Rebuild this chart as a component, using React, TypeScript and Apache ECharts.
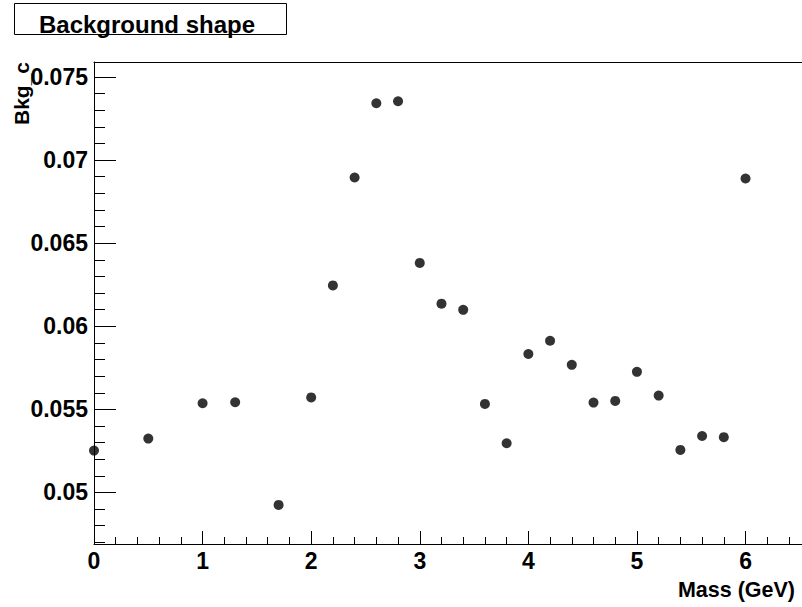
import React, { useEffect, useRef } from "react";
import * as echarts from "echarts";

const massValues = [0, 0.5, 1.0, 1.3, 1.7, 2.0, 2.2, 2.4, 2.6, 2.8, 3.0, 3.2, 3.4, 3.6, 3.8, 4.0, 4.2, 4.4, 4.6, 4.8, 5.0, 5.2, 5.4, 5.6, 5.8, 6.0];
const bkgValues = [0.05252, 0.05324, 0.05537, 0.05543, 0.04925, 0.05572, 0.06246, 0.06895, 0.07342, 0.07354, 0.06381, 0.06136, 0.06099, 0.05533, 0.05296, 0.05833, 0.05913, 0.05768, 0.05541, 0.05551, 0.05726, 0.05583, 0.05256, 0.0534, 0.05333, 0.06889];

const xMajorTicks = [0, 1, 2, 3, 4, 5, 6];
const xMinorTicks = [0.2, 0.4, 0.6, 0.8, 1.2, 1.4, 1.6, 1.8, 2.2, 2.4, 2.6, 2.8, 3.2, 3.4, 3.6, 3.8, 4.2, 4.4, 4.6, 4.8, 5.2, 5.4, 5.6, 5.8, 6.2, 6.4];
const yMajorTicks = [0.05, 0.055, 0.06, 0.065, 0.07, 0.075];
const yMinorTicks = [0.047, 0.048, 0.049, 0.051, 0.052, 0.053, 0.054, 0.056, 0.057, 0.058, 0.059, 0.061, 0.062, 0.063, 0.064, 0.066, 0.067, 0.068, 0.069, 0.071, 0.072, 0.073, 0.074];

const titleText = "Background shape";
const xTitle = "Mass (GeV)";
const yTitle = "Bkg_c";

const X_MIN = 0;
const X_MAX = 6.52;
const Y_MIN = 0.0469;
const Y_MAX = 0.0759;

const FONT = "'Liberation Sans', Arial, Helvetica, sans-serif";

export default function App() {
  const ref = useRef<HTMLDivElement>(null);
  useEffect(() => {
    if (!ref.current) return;
    const chart = echarts.init(ref.current, null, { renderer: "svg" });
    const lineStyle = { color: "#000", width: 1 };
    const labelStyle = { fontFamily: FONT, fontWeight: "bold" as const, fontSize: 23, color: "#000" };
    const fmt = (v: number) => String(+Number(v).toFixed(3));
    chart.setOption({
      animation: false,
      backgroundColor: "#fff",
      grid: { left: 94, right: 0, top: 62, bottom: 63, containLabel: false },
      xAxis: [
        {
          type: "value", min: X_MIN, max: X_MAX, position: "bottom",
          axisLine: { show: true, onZero: false, lineStyle },
          axisTick: { show: true, inside: true, length: 13, lineStyle, customValues: xMajorTicks },
          axisLabel: { show: true, margin: 5, customValues: xMajorTicks, formatter: fmt, ...labelStyle },
          splitLine: { show: false },
        },
        {
          type: "value", min: X_MIN, max: X_MAX, position: "bottom",
          axisLine: { show: false, onZero: false },
          axisTick: { show: true, inside: true, length: 7, lineStyle, customValues: xMinorTicks },
          axisLabel: { show: false },
          splitLine: { show: false },
        },
        {
          type: "value", min: X_MIN, max: X_MAX, position: "top",
          axisLine: { show: true, onZero: false, lineStyle },
          axisTick: { show: false },
          axisLabel: { show: false },
          splitLine: { show: false },
        },
      ],
      yAxis: [
        {
          type: "value", min: Y_MIN, max: Y_MAX, position: "left",
          axisLine: { show: true, onZero: false, lineStyle },
          axisTick: { show: true, inside: true, length: 22, lineStyle, customValues: yMajorTicks },
          axisLabel: { show: true, margin: 6, customValues: yMajorTicks, formatter: fmt, ...labelStyle },
          splitLine: { show: false },
        },
        {
          type: "value", min: Y_MIN, max: Y_MAX, position: "left",
          axisLine: { show: false, onZero: false },
          axisTick: { show: true, inside: true, length: 11, lineStyle, customValues: yMinorTicks },
          axisLabel: { show: false },
          splitLine: { show: false },
        },
      ],
      series: [
        {
          type: "scatter",
          xAxisIndex: 0,
          yAxisIndex: 0,
          symbol: "circle",
          symbolSize: 10,
          itemStyle: { color: "#000" },
          data: massValues.map((m, i) => [m, bkgValues[i]]),
        },
      ],
      graphic: [
        {
          type: "rect",
          shape: { x: 14.5, y: 3.5, width: 272, height: 31 },
          style: { fill: "#fff", stroke: "#000", lineWidth: 1 },
          z: 10,
        },
        {
          type: "text",
          x: 147, y: 24,
          style: { text: titleText, fontFamily: FONT, fontWeight: "bold", fontSize: 24, fill: "#000", align: "center", verticalAlign: "middle" },
          z: 11,
        },
        {
          type: "text",
          x: 795, y: 590,
          style: { text: xTitle, fontFamily: FONT, fontWeight: "bold", fontSize: 21.5, fill: "#000", align: "right", verticalAlign: "middle" },
          z: 11,
        },
        {
          type: "text",
          x: 21, y: 62,
          rotation: Math.PI / 2,
          style: { text: yTitle, fontFamily: FONT, fontWeight: "bold", fontSize: 21, fill: "#000", align: "right", verticalAlign: "middle" },
          z: 11,
        },
      ],
    });
    return () => chart.dispose();
  }, []);
  return <div ref={ref} style={{ width: 802, height: 607, position: "absolute", left: 0, top: 0 }} />;
}
